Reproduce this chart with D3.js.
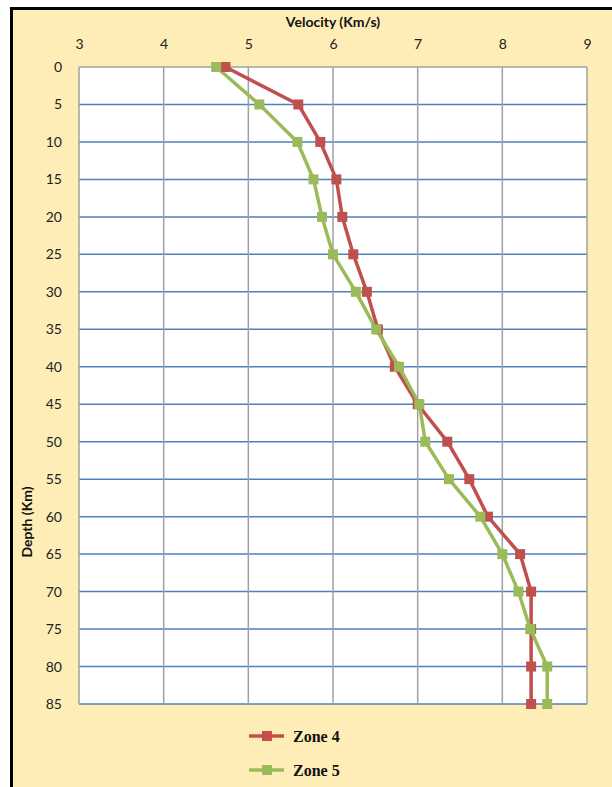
<!DOCTYPE html>
<html><head><meta charset="utf-8">
<script src="https://cdn.jsdelivr.net/npm/d3@7"></script>
<style>body{margin:0;background:#fff}svg{display:block}</style>
</head><body>
<script>
const depths = [0,5,10,15,20,25,30,35,40,45,50,55,60,65,70,75,80,85];
const zone4 = [4.73,5.59,5.85,6.04,6.11,6.24,6.40,6.53,6.73,7.00,7.35,7.61,7.83,8.21,8.34,8.34,8.34,8.34];
const zone5 = [4.62,5.13,5.58,5.77,5.87,6.00,6.27,6.51,6.78,7.02,7.09,7.37,7.74,8.00,8.19,8.33,8.53,8.53];
const xTicks = [3,4,5,6,7,8,9];
const yTicks = [0,5,10,15,20,25,30,35,40,45,50,55,60,65,70,75,80,85];
const seriesNames = ["Zone 4","Zone 5"];
const seriesColors = ["#C0504D","#9BBB59"];

const W=612,H=787;
const svg=d3.select("body").append("svg").attr("width",W).attr("height",H);
svg.append("rect").attr("x",11.5).attr("y",8.5).attr("width",W).attr("height",H).attr("fill","#FEEDB7").attr("stroke","#000").attr("stroke-width",3);

const L=79,R=587,T=67,B=704;
const x=d3.scaleLinear().domain([3,9]).range([L,R]);
const y=d3.scaleLinear().domain([0,85]).range([T,B]);
const tickFont="Lato, 'Open Sans', sans-serif";

svg.append("rect").attr("x",L).attr("y",T).attr("width",R-L).attr("height",B-T).attr("fill","#fff");

svg.append("g").selectAll("line").data(yTicks.filter(d=>d>0)).join("line")
  .attr("x1",L).attr("x2",R).attr("y1",d=>y(d)).attr("y2",d=>y(d))
  .attr("stroke","#4F81BD").attr("stroke-width",1.5);
svg.append("g").selectAll("line").data(xTicks).join("line")
  .attr("x1",d=>x(d)).attr("x2",d=>x(d)).attr("y1",T).attr("y2",B)
  .attr("stroke","#A0A0A0").attr("stroke-width",1.5);
svg.append("line").attr("x1",L).attr("x2",R).attr("y1",T).attr("y2",T).attr("stroke","#A0A0A0").attr("stroke-width",1.5);

const xAxis=d3.axisTop(x).tickValues(xTicks).tickFormat(d3.format("d")).tickSize(0).tickPadding(0);
const gx=svg.append("g").attr("transform",`translate(0,${T-18})`).call(xAxis);
gx.select(".domain").remove();
gx.selectAll("text").attr("font-family",tickFont).attr("font-size",14).attr("fill","#222");

const yAxis=d3.axisLeft(y).tickValues(yTicks).tickFormat(d3.format("d")).tickSize(0).tickPadding(0);
const gy=svg.append("g").attr("transform",`translate(${L-17},0)`).call(yAxis);
gy.select(".domain").remove();
gy.selectAll("text").attr("font-family",tickFont).attr("font-size",14).attr("fill","#222");

svg.append("text").attr("x",(L+R)/2).attr("y",27).attr("text-anchor","middle")
  .attr("font-family",tickFont).attr("font-weight","bold").attr("font-size",14)
  .attr("fill","#111").text("Velocity (Km/s)");
svg.append("text").attr("transform","translate(32,522) rotate(-90)").attr("text-anchor","middle")
  .attr("font-family",tickFont).attr("font-weight","bold").attr("font-size",14)
  .attr("fill","#111").text("Depth  (Km)");

const series=[zone4,zone5];
const line=d3.line().x(d=>x(d[0])).y(d=>y(d[1]));
series.forEach((s,i)=>{
  const pts=s.map((v,j)=>[v,depths[j]]);
  svg.append("path").attr("d",line(pts)).attr("fill","none").attr("stroke",seriesColors[i]).attr("stroke-width",3.5).attr("stroke-linejoin","round");
});
series.forEach((s,i)=>{
  svg.append("g").selectAll("rect").data(s.map((v,j)=>[v,depths[j]])).join("rect")
    .attr("x",d=>x(d[0])-5).attr("y",d=>y(d[1])-5).attr("width",10).attr("height",10).attr("fill",seriesColors[i]);
});

seriesNames.forEach((n,i)=>{
  const ly=736+i*34;
  svg.append("line").attr("x1",249).attr("x2",284).attr("y1",ly).attr("y2",ly).attr("stroke",seriesColors[i]).attr("stroke-width",3.5);
  svg.append("rect").attr("x",262).attr("y",ly-5).attr("width",10).attr("height",10).attr("fill",seriesColors[i]);
  svg.append("text").attr("x",293).attr("y",ly+6).attr("font-family","'Liberation Serif', serif").attr("font-weight","bold").attr("font-size",16).attr("fill","#111").text(n);
});
</script>
</body></html>
